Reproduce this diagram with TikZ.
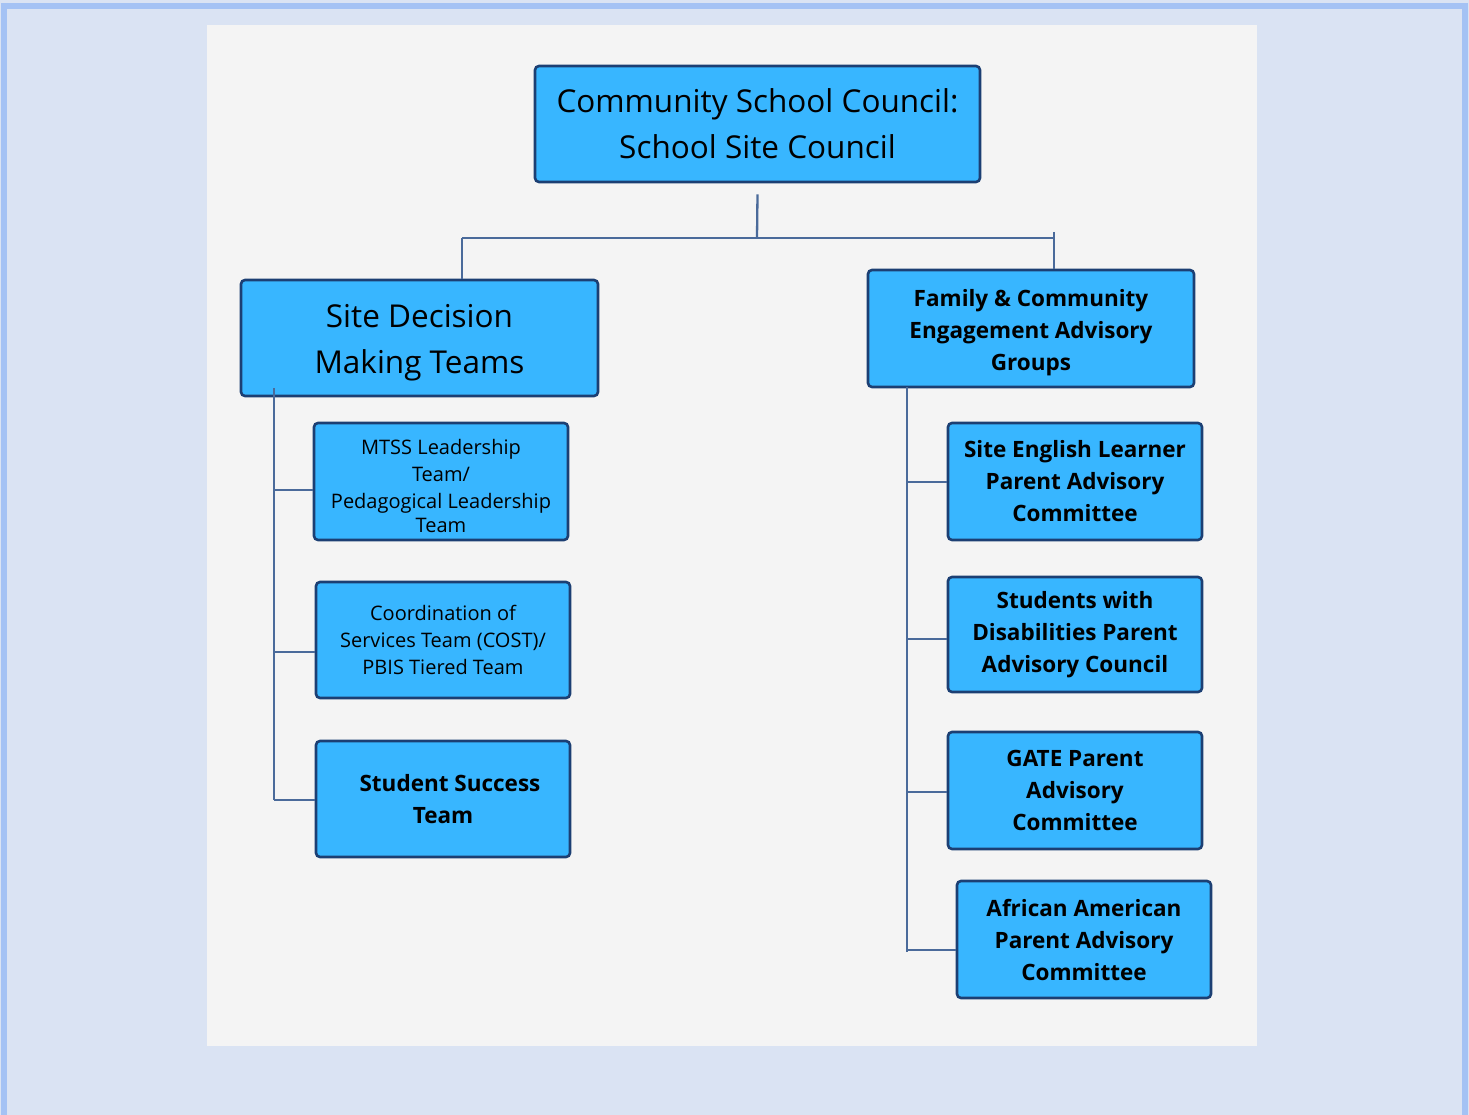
\documentclass[tikz,border=0pt]{standalone}
\usepackage{fontspec}
\setmainfont{Open Sans}
\definecolor{outerbg}{HTML}{DAE3F3}
\definecolor{outerline}{HTML}{A4C2F4}
\definecolor{panel}{HTML}{F4F4F4}
\definecolor{boxfill}{HTML}{38B6FF}
\definecolor{boxline}{HTML}{1C3F73}
\definecolor{conn}{HTML}{4A6A9A}
\tikzset{
  orgbox/.style={draw=boxline, fill=boxfill, line width=2.6pt, rounded corners=4pt,
    align=center, inner sep=2pt, text=black},
  bigtxt/.style={font=\fontsize{31.5}{46}\selectfont},
  midtxt/.style={font=\bfseries\fontsize{22.5}{32}\selectfont},
  smalltxt/.style={font=\fontsize{20}{27}\selectfont},
  link/.style={draw=conn, line width=2.3pt}
}
\begin{document}
\begin{tikzpicture}[x=1pt,y=-1pt]
\useasboundingbox (0,0) rectangle (1469,1115);
\fill[outerbg] (0,0) rectangle (1469,1115);
\draw[outerline, line width=6pt] (3.5,6) rectangle (1465,1130);
\fill[panel] (207,25) rectangle (1257,1046);

\node[orgbox, bigtxt, minimum width=445pt, minimum height=116pt] (top) at (757.5,124)
  {Community School Council:\\School Site Council};
\node[orgbox, bigtxt, minimum width=357pt, minimum height=116pt] (sdm) at (419.5,338)
  {\rule{0pt}{33pt}Site Decision\\Making Teams};
\node[orgbox, midtxt, minimum width=326pt, minimum height=117pt] (fam) at (1031,328.5)
  {\rule{0pt}{25pt}Family \& Community\\Engagement Advisory\\Groups};

\node[orgbox, smalltxt, minimum width=254pt, minimum height=117pt] (mtss) at (441,481.5)
  {\rule{0pt}{24pt}MTSS Leadership\\Team/\\Pedagogical Leadership\\[-3pt]Team};
\node[orgbox, smalltxt, minimum width=254pt, minimum height=116pt] (cost) at (443,640)
  {Coordination of\\Services Team (COST)/\\PBIS Tiered Team};
\node[orgbox, midtxt, minimum width=254pt, minimum height=116pt] (sst) at (443,799)
  {\hspace*{14pt}Student Success\\Team};

\node[orgbox, midtxt, minimum width=254pt, minimum height=117pt] (el) at (1075,481.5)
  {Site English Learner\\Parent Advisory\\Committee};
\node[orgbox, midtxt, minimum width=254pt, minimum height=115pt] (swd) at (1075,634.5)
  {Students with\\Disabilities Parent\\Advisory Council};
\node[orgbox, midtxt, minimum width=254pt, minimum height=117pt] (gate) at (1075,790.5)
  {GATE Parent\\Advisory\\Committee};
\node[orgbox, midtxt, minimum width=254pt, minimum height=117pt] (aa) at (1084,939.5)
  {African American\\Parent Advisory\\Committee};

\coordinate (j) at (757,238);
\coordinate (lb) at (462,238);
\coordinate (rb) at (1054,238);
\coordinate (rtop) at (1054,232);
\coordinate (lt) at (274,388);
\coordinate (lbot) at (274,800);
\coordinate (rt) at (907,387);
\coordinate (rbot) at (907,952);
\coordinate (topgap) at ([yshift=-11pt]top.south);
\coordinate (m1) at ([yshift=-8.5pt]mtss.west);
\coordinate (m2) at ([yshift=-12pt]cost.west);
\coordinate (m3) at ([yshift=-1pt]sst.west);
\coordinate (r1) at ([yshift=-0.5pt]el.west);
\coordinate (r2) at ([yshift=-4.5pt]swd.west);
\coordinate (r3) at ([yshift=-1.5pt]gate.west);
\coordinate (r4) at ([yshift=-10.5pt]aa.west);

\draw[link] (topgap) -- (j);
\draw[link] (lb) -- (rb);
\draw[link] (lb) -- (lb |- sdm.north);
\draw[link] (rtop) -- (rtop |- fam.north);
\draw[link] (lt) -- (lbot);
\draw[link] (rt) -- (rbot);
\draw[link] (lt |- m1) -- (m1);
\draw[link] (lt |- m2) -- (m2);
\draw[link] (lt |- m3) -- (m3);
\draw[link] (rt |- r1) -- (r1);
\draw[link] (rt |- r2) -- (r2);
\draw[link] (rt |- r3) -- (r3);
\draw[link] (rt |- r4) -- (r4);
\end{tikzpicture}
\end{document}
